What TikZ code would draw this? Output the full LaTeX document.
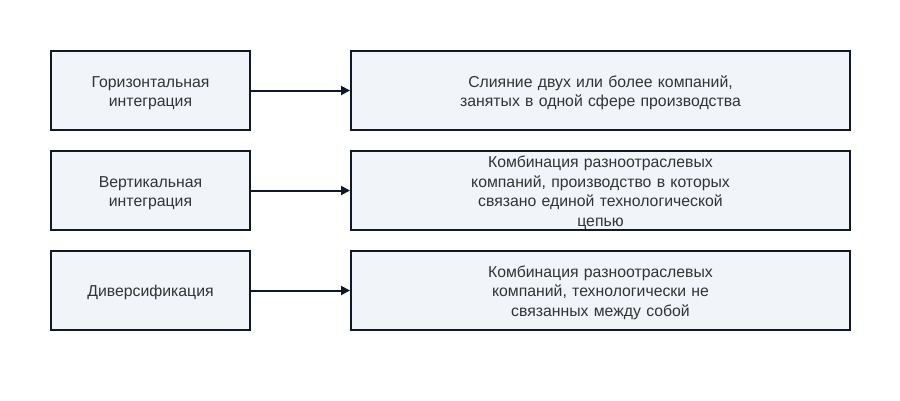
\documentclass[tikz,border=0pt]{standalone}
\usepackage{fontspec}
\setmainfont{Liberation Sans}
\usetikzlibrary{arrows.meta}
\definecolor{boxfill}{HTML}{F1F4F9}
\definecolor{boxline}{HTML}{111827}
\definecolor{txt}{HTML}{333333}
\begin{document}
\begin{tikzpicture}[x=1pt,y=-1pt,
  box/.style={draw=boxline, line width=2pt, fill=boxfill, inner sep=0pt, align=center,
    text=txt, font=\fontsize{15.8}{19.5}\selectfont,
    execute at begin node={\rule{0pt}{16pt}}},
  lbox/.style={box, minimum width=199pt, minimum height=79pt, text width=190pt},
  rbox/.style={box, minimum width=499pt, minimum height=79pt, text width=320pt},
  conn/.style={draw=boxline, line width=2pt, -{Triangle[length=9pt,width=9pt]}}]
\useasboundingbox (0,0) rectangle (900,400);
\node[lbox] (l1) at (150.5,90.5) {Горизонтальная\\интеграция};
\node[lbox] (l2) at (150.5,190.5) {Вертикальная\\интеграция};
\node[lbox] (l3) at (150.5,290.5) {Диверсификация};
\node[rbox] (r1) at (600.5,90.5) {Слияние двух или более компаний,\\занятых в одной сфере производства};
\node[rbox] (r2) at (600.5,190.5) {Комбинация разноотраслевых\\компаний, производство в которых\\связано единой технологической\\цепью};
\node[rbox] (r3) at (600.5,290.5) {Комбинация разноотраслевых\\компаний, технологически не\\связанных между собой};
\draw[conn] (l1) -- (r1);
\draw[conn] (l2) -- (r2);
\draw[conn] (l3) -- (r3);
\end{tikzpicture}
\end{document}
